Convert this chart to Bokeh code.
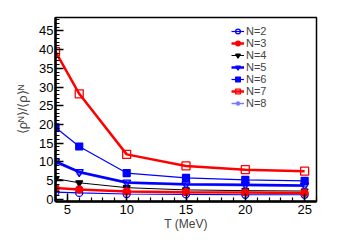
from bokeh.plotting import figure
from bokeh.models import Legend, LegendItem, FixedTicker, Range1d
from bokeh.embed import file_html
from bokeh.resources import INLINE

T = [4, 6, 10, 15, 20, 25]
n2 = [1.9, 1.7, 1.4, 1.3, 1.2, 1.2]
n3 = [3.0, 2.6, 2.1, 1.9, 1.8, 1.7]
n4 = [5.5, 4.4, 3.1, 2.5, 2.3, 2.2]
n5 = [10.1, 7.3, 4.5, 4.0, 3.9, 3.7]
n6 = [19.2, 14.1, 7.0, 5.7, 5.2, 4.9]
n7 = [39.5, 28.2, 12.0, 8.9, 7.9, 7.5]
n8 = [9.8, 7.1, 4.3, 3.8, 3.6, 3.5]
labels = ["N=2", "N=3", "N=4", "N=5", "N=6", "N=7", "N=8"]
x_ticks = [5, 10, 15, 20, 25]
y_ticks = [0, 5, 10, 15, 20, 25, 30, 35, 40, 45]

FONT = "Liberation Sans"

p = figure(width=348, height=242, output_backend="svg", toolbar_location=None,
           x_range=Range1d(4, 26), y_range=Range1d(-0.6, 48.6),
           min_border_left=55, min_border_right=32, min_border_top=17, min_border_bottom=41)
p.background_fill_color = "white"
p.border_fill_color = "white"
p.grid.visible = False
p.outline_line_color = "black"
p.outline_line_width = 1.5

for ax in (p.xaxis[0], p.yaxis[0]):
    ax.axis_line_width = 2.5
    ax.major_tick_in = 8
    ax.major_tick_out = 0
    ax.minor_tick_in = 4
    ax.minor_tick_out = 0
    ax.major_tick_line_width = 1.5
    ax.minor_tick_line_width = 1.2
    ax.major_label_text_font = FONT
    ax.major_label_text_font_size = "13px"
    ax.major_label_text_color = "black"
    ax.axis_label_text_font = FONT
    ax.axis_label_text_font_style = "normal"

p.xaxis[0].ticker = FixedTicker(ticks=x_ticks, minor_ticks=list(range(4, 27)))
p.yaxis[0].ticker = FixedTicker(ticks=y_ticks, minor_ticks=list(range(0, 49)))
p.xaxis[0].major_label_standoff = 3
p.yaxis[0].major_label_standoff = 2
p.xaxis[0].axis_label = "T (MeV)"
p.xaxis[0].axis_label_text_font_size = "12px"
p.xaxis[0].axis_label_standoff = 0
p.yaxis[0].axis_label = "\u27e8\u03c1\u1d3a\u27e9/\u27e8\u03c1\u27e9\u1d3a"
p.yaxis[0].axis_label_text_font_size = "13px"
p.yaxis[0].axis_label_standoff = 6

items = []

def series(y, color, lw, marker, size, fill, label, mlw=1.2):
    r1 = p.line(T, y, line_color=color, line_width=lw)
    r2 = p.scatter(T, y, marker=marker, size=size, line_color=color, line_width=mlw,
                   fill_color=color if fill else "white", fill_alpha=1.0 if fill else 0.0)
    items.append(LegendItem(label=label, renderers=[r1, r2]))

series(n8, "#7878ff", 1.5, "asterisk", 7, False, labels[6])
series(n2, "#0000ff", 1.2, "circle", 7, False, labels[0], 1.3)
series(n4, "black", 1.0, "inverted_triangle", 7, True, labels[2])
series(n5, "#0000ff", 2.5, "inverted_triangle", 8, False, labels[3], 1.3)
series(n6, "#0000ff", 1.2, "square", 7, True, labels[4])
series(n3, "#ff0000", 2.5, "circle", 7, True, labels[1])
series(n7, "#ff0000", 2.5, "square", 8, False, labels[5], 1.3)

order = {lab: i for i, lab in enumerate(labels)}
items.sort(key=lambda it: order[it.label.value])

legend = Legend(items=items, location=(176, 92), border_line_color=None,
                background_fill_alpha=0.0, label_text_font=FONT,
                label_text_font_size="11px",
                spacing=0, padding=0,
                glyph_width=13, glyph_height=12, label_height=12,
                label_standoff=2, margin=0)
p.add_layout(legend, "center")

open("out.html", "w").write(file_html(p, INLINE))
